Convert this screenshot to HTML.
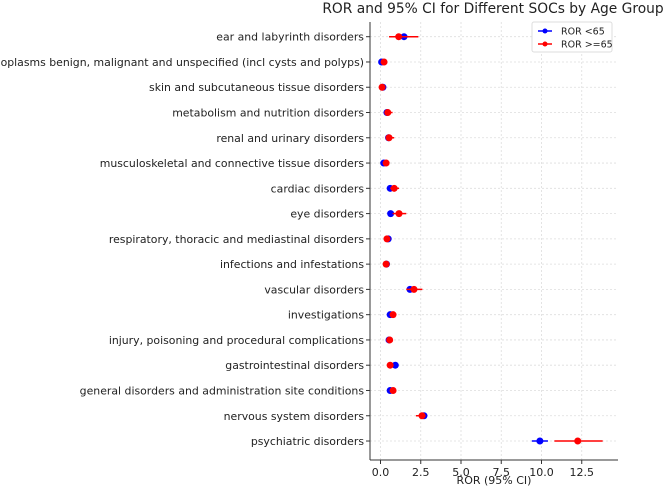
<!DOCTYPE html>
<html><head><meta charset="utf-8"><style>
body{margin:0;background:#fff;font-family:"Liberation Sans","DejaVu Sans",sans-serif}
svg text{font-family:"DejaVu Sans","Liberation Sans",sans-serif;fill:#222}
</style></head><body>
<svg id="chart" width="669" height="490" viewBox="0 0 669 490" xmlns="http://www.w3.org/2000/svg"></svg>
<script>
const categories=["ear and labyrinth disorders","neoplasms benign, malignant and unspecified (incl cysts and polyps)","skin and subcutaneous tissue disorders","metabolism and nutrition disorders","renal and urinary disorders","musculoskeletal and connective tissue disorders","cardiac disorders","eye disorders","respiratory, thoracic and mediastinal disorders","infections and infestations","vascular disorders","investigations","injury, poisoning and procedural complications","gastrointestinal disorders","general disorders and administration site conditions","nervous system disorders","psychiatric disorders"];
const rorYoung=[1.46,0.07,0.15,0.4,0.5,0.2,0.6,0.63,0.48,0.37,1.83,0.6,0.53,0.92,0.6,2.7,9.9];
const youngLow=[1.2,0.0,0.05,0.3,0.4,0.12,0.5,0.5,0.38,0.3,1.65,0.5,0.45,0.8,0.5,2.55,9.4];
const youngHigh=[1.75,0.15,0.25,0.5,0.6,0.3,0.7,0.78,0.58,0.45,2.0,0.7,0.62,1.05,0.7,2.85,10.4];
const rorOld=[1.13,0.22,0.1,0.45,0.53,0.35,0.85,1.15,0.4,0.35,2.08,0.78,0.57,0.6,0.78,2.58,12.25];
const oldLow=[0.53,0.1,0.02,0.3,0.4,0.22,0.6,0.75,0.3,0.25,1.6,0.62,0.45,0.48,0.62,2.2,10.8];
const oldHigh=[2.35,0.35,0.2,0.75,0.85,0.5,1.15,1.6,0.52,0.45,2.6,0.95,0.7,0.72,0.95,2.8,13.8];
const xTicks=[0,2.5,5,7.5,10,12.5];
const xTickLabels=["0.0","2.5","5.0","7.5","10.0","12.5"];

const NS="http://www.w3.org/2000/svg";
const svg=document.getElementById('chart');
const L=370,R=618,T=22,B=460;
const xs=v=>380.5+v*16.1;
const ys=i=>36.7+i*25.27;
function mk(tag,attrs,parent){const e=document.createElementNS(NS,tag);for(const k in attrs)e.setAttribute(k,attrs[k]);(parent||svg).appendChild(e);return e;}

xTicks.forEach((t,i)=>{
  const g=mk('line',{x1:xs(t),x2:xs(t),y1:T,y2:B,stroke:'#ddd','stroke-dasharray':'2,2','stroke-width':0.8});
  
  
  const tk=mk('line',{x1:xs(t),x2:xs(t),y1:B,y2:B+4,stroke:'#333'});
  
  
  const tl=mk('text',{x:xs(t),y:B+16,'text-anchor':'middle','font-size':11});
  tl.textContent=xTickLabels[i];
  
  
});
categories.forEach((c,i)=>{
  const g=mk('line',{x1:L,x2:R,y1:ys(i),y2:ys(i),stroke:'#ddd','stroke-dasharray':'2,2','stroke-width':0.8});
  
  
  const tk=mk('line',{x1:L-4,x2:L,y1:ys(i),y2:ys(i),stroke:'#333'});
  
  
  const tl=mk('text',{x:L-6,y:ys(i)+4,'text-anchor':'end','font-size':10.9});
  tl.textContent=c;
  
  
});
const sp1=mk('line',{x1:L,x2:L,y1:T,y2:B,stroke:'#333','stroke-width':1});


const sp2=mk('line',{x1:L,x2:R,y1:B,y2:B,stroke:'#333','stroke-width':1});



function series(vals,lo,hi,color,name){
  vals.forEach((v,i)=>{
    const l=mk('line',{x1:xs(lo[i]),x2:xs(hi[i]),y1:ys(i),y2:ys(i),stroke:color,'stroke-width':1.5});
    
    
    const p=mk('circle',{cx:xs(v),cy:ys(i),r:3.5,fill:color});
    
    
  });
}
series(rorYoung,youngLow,youngHigh,'#0000ff','ror-under-65');
series(rorOld,oldLow,oldHigh,'#ff0000','ror-65-plus');

const title=mk('text',{x:493,y:13,'text-anchor':'middle','font-size':13.8});
title.textContent='ROR and 95% CI for Different SOCs by Age Group';


const xl=mk('text',{x:494,y:484,'text-anchor':'middle','font-size':11});
xl.textContent='ROR (95% CI)';



const lg=mk('g',{});


mk('rect',{x:532,y:22,width:80,height:30,fill:'#fff',stroke:'#ddd',rx:2},lg);
[['#0000ff','ROR <65',31],['#ff0000','ROR >=65',44]].forEach(([c,t,y])=>{
  const e=mk('g',{},lg);
  
  
  mk('line',{x1:538,x2:552,y1:y,y2:y,stroke:c,'stroke-width':1.5},e);
  mk('circle',{cx:545,cy:y,r:2.5,fill:c},e);
  const tx=mk('text',{x:561,y:y+3.5,'font-size':9.5},e);tx.textContent=t;
});
</script>
</body></html>
